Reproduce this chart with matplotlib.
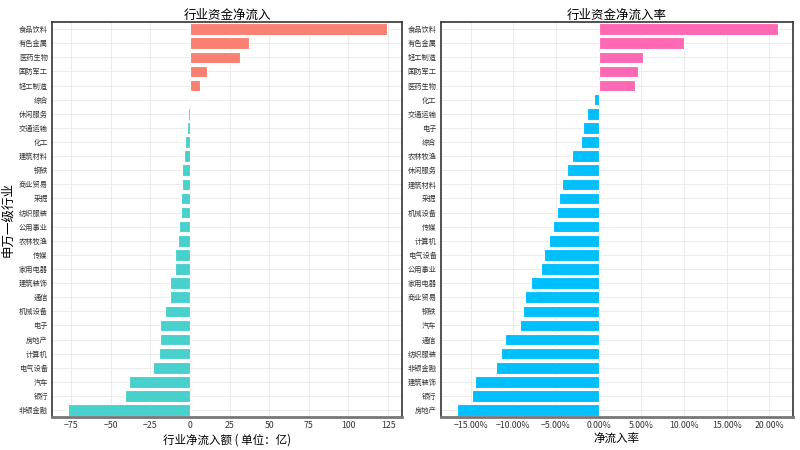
import numpy as np
import matplotlib
matplotlib.use("Agg")
import matplotlib.pyplot as plt
from matplotlib.ticker import PercentFormatter

plt.rcParams['font.family'] = ['Noto Sans CJK SC', 'DejaVu Sans']
plt.rcParams['axes.unicode_minus'] = True

# 行业资金净流入 (亿), top to bottom
inflow_names = ['食品饮料', '有色金属', '医药生物', '国防军工', '轻工制造', '综合', '休闲服务',
                '交通运输', '化工', '建筑材料', '钢铁', '商业贸易', '采掘', '纺织服装', '公用事业',
                '农林牧渔', '传媒', '家用电器', '建筑装饰', '通信', '机械设备', '电子', '房地产',
                '计算机', '电气设备', '汽车', '银行', '非银金融']
inflow_vals = [124.0, 37.2, 31.5, 10.7, 6.3, -0.4, -1.5,
               -1.9, -2.9, -3.6, -4.8, -4.7, -5.5, -5.9, -7.1,
               -7.8, -9.5, -9.4, -12.3, -12.4, -16.0, -19.1, -19.1,
               -19.7, -23.5, -38.2, -41.0, -77.1]

# 行业资金净流入率 (%), top to bottom
rate_names = ['食品饮料', '有色金属', '轻工制造', '国防军工', '医药生物', '化工', '交通运输',
              '电子', '综合', '农林牧渔', '休闲服务', '建筑材料', '采掘', '机械设备', '传媒',
              '计算机', '电气设备', '公用事业', '家用电器', '商业贸易', '钢铁', '汽车', '通信',
              '纺织服装', '非银金融', '建筑装饰', '银行', '房地产']
rate_vals = [21.0, 9.95, 5.17, 4.66, 4.31, -0.51, -1.41,
             -1.85, -2.04, -3.10, -3.69, -4.28, -4.59, -4.90, -5.37,
             -5.84, -6.40, -6.79, -7.93, -8.63, -8.87, -9.22, -10.99,
             -11.49, -12.00, -14.44, -14.87, -16.55]


def style_axes(ax):
    ax.set_facecolor('white')
    ax.grid(True, color='#e8e8e8', linewidth=0.6)
    ax.set_axisbelow(True)
    for side in ['top', 'left', 'right']:
        ax.spines[side].set_color('#333333')
        ax.spines[side].set_linewidth(1.2)
    ax.spines['bottom'].set_color('#777777')
    ax.spines['bottom'].set_linewidth(2.0)
    ax.tick_params(axis='both', length=0, colors='#333333', pad=3)
    ax.tick_params(axis='y', labelsize=5.2)
    ax.tick_params(axis='x', labelsize=6.3)


def draw_panel(ax, names, vals, pos_color, neg_color):
    y = np.arange(len(names))
    vals = np.array(vals)
    colors = [pos_color if v > 0 else neg_color for v in vals]
    ax.barh(y, vals, height=0.82, color=colors, edgecolor='white', linewidth=0.8)
    ax.set_yticks(y)
    ax.set_yticklabels(names)
    ax.set_ylim(len(names) - 0.5, -0.5)
    style_axes(ax)


fig = plt.figure(figsize=(8, 4.5), dpi=100)
ax1 = fig.add_axes([0.065, 0.073, 0.438, 0.878])
ax2 = fig.add_axes([0.551, 0.073, 0.440, 0.878])

draw_panel(ax1, inflow_names, inflow_vals, '#FA8072', '#48D1CC')
ax1.set_xlim(-87, 134)
ax1.set_xticks([-75, -50, -25, 0, 25, 50, 75, 100, 125])
ax1.set_title('行业资金净流入', fontsize=9, pad=2)
ax1.set_xlabel('行业净流入额 ( 单位：亿)', fontsize=8.3, labelpad=2)
ax1.set_ylabel('申万一级行业', fontsize=9)
ax1.yaxis.set_label_coords(-0.108, 0.5)

draw_panel(ax2, rate_names, rate_vals, '#FF69B4', '#00BFFF')
ax2.set_xlim(-18.5, 22.75)
ax2.set_xticks([-15, -10, -5, 0, 5, 10, 15, 20])
ax2.xaxis.set_major_formatter(PercentFormatter(decimals=2))
ax2.set_title('行业资金净流入率', fontsize=9, pad=2)
ax2.set_xlabel('净流入率', fontsize=8.3, labelpad=2)

fig.savefig('out.png', dpi=100, facecolor='white')
